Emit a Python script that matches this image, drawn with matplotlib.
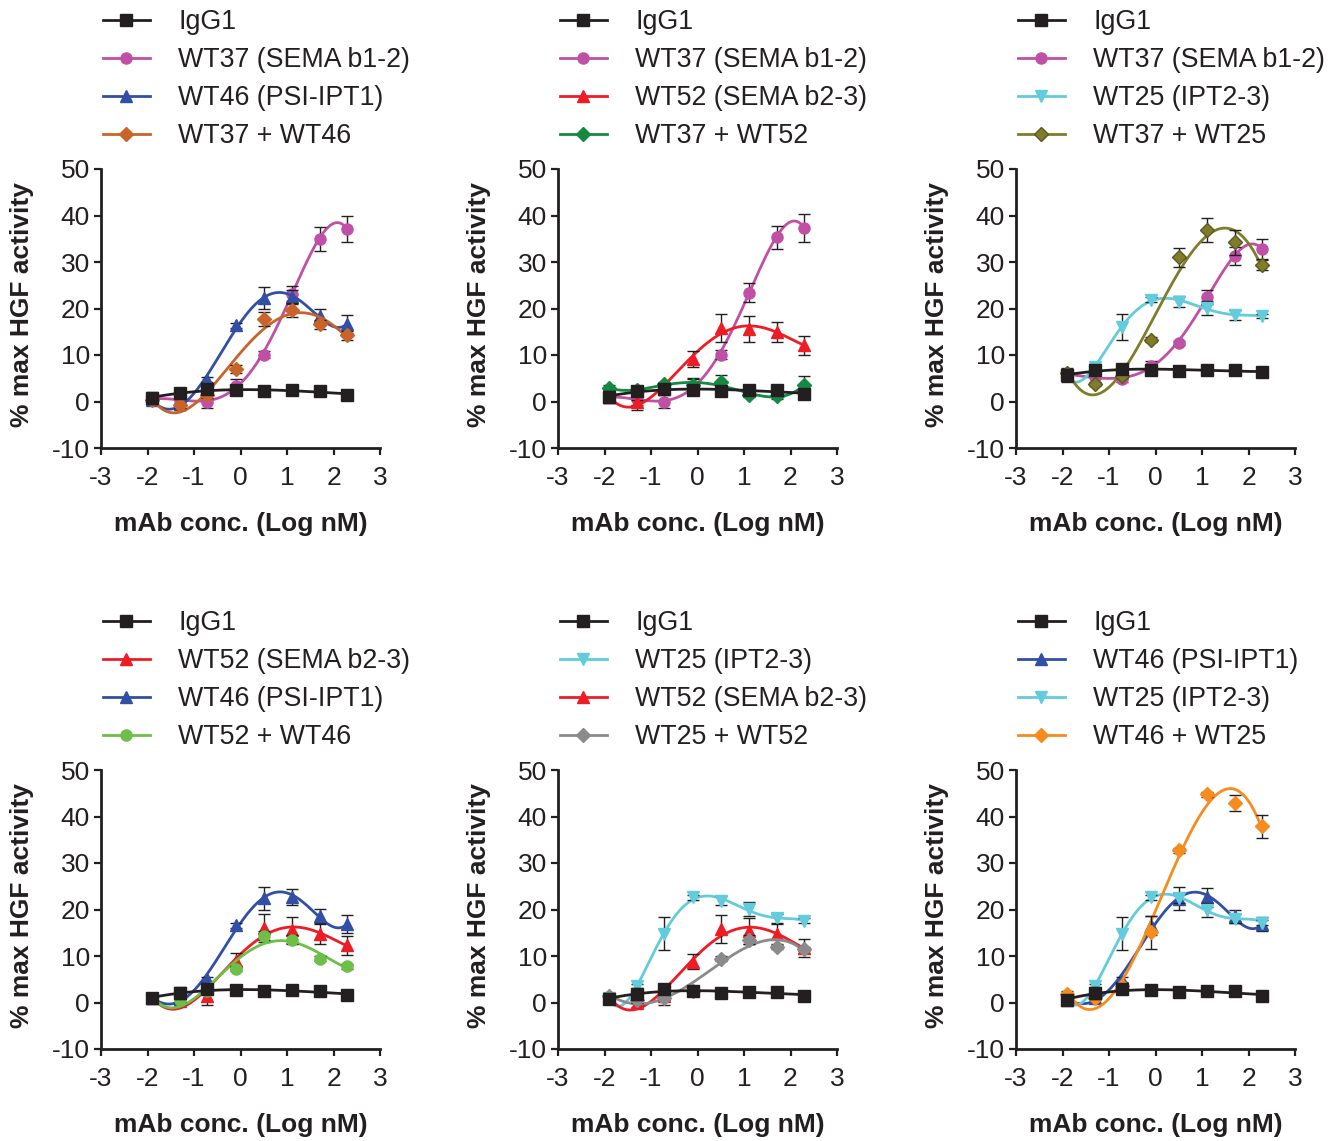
import numpy as np
import matplotlib
matplotlib.use("Agg")
import matplotlib.pyplot as plt
from matplotlib.lines import Line2D

plt.rcParams['font.family'] = ['Liberation Sans', 'DejaVu Sans']

# mAb concentration (nM): 200 nM serially diluted 1:4
conc_nM = [0.0122, 0.0488, 0.195, 0.781, 3.125, 12.5, 50.0, 200.0]

# ---------- Panel 1 ----------
p1_igg = [0.8, 1.8, 2.6, 2.4, 2.2, 2.4, 2.3, 1.5]
p1_igg_err = [1.3, 0.5, 0.5, 0.3, 0.3, 0.3, 0.3, 0.5]
p1_wt37 = [0.5, 0.4, 0.0, 3.3, 10.1, 23.2, 35.0, 37.0]
p1_wt37_err = [0.5, 2.2, 1.3, 1.5, 0.8, 1.6, 2.6, 2.8]
p1_wt46 = [0.3, -0.5, 4.7, 16.4, 22.2, 22.4, 18.4, 16.7]
p1_wt46_err = [0.5, 1.0, 0.5, 0.5, 2.4, 1.5, 1.5, 2.0]
p1_combo = [0.3, -0.8, 1.5, 7.0, 17.7, 19.6, 16.6, 14.2]
p1_combo_err = [0.5, 0.5, 0.8, 0.8, 1.5, 1.5, 1.0, 1.0]

# ---------- Panel 2 ----------
p2_igg = [1.0, 2.3, 2.7, 2.4, 2.3, 2.5, 2.4, 1.6]
p2_igg_err = [1.3, 1.0, 0.5, 0.3, 0.3, 0.3, 0.3, 0.3]
p2_wt37 = [1.0, 0.5, 0.0, 3.3, 10.1, 23.4, 35.3, 37.3]
p2_wt37_err = [0.5, 2.3, 1.3, 1.5, 1.0, 2.0, 2.5, 3.0]
p2_wt52 = [1.0, -0.2, 3.0, 9.1, 15.9, 15.6, 14.9, 12.1]
p2_wt52_err = [0.5, 0.5, 0.5, 1.7, 3.0, 2.8, 2.2, 2.0]
p2_combo = [3.0, 2.5, 3.8, 3.5, 4.1, 1.4, 1.1, 3.6]
p2_combo_err = [0.5, 0.8, 0.5, 1.5, 1.5, 0.5, 0.5, 1.8]

# ---------- Panel 3 ----------
p3_igg = [5.6, 6.7, 7.0, 6.8, 6.6, 6.8, 6.8, 6.3]
p3_igg_err = [1.3, 0.5, 0.5, 0.3, 0.3, 0.3, 0.3, 0.3]
p3_wt37 = [6.0, 5.2, 4.9, 7.7, 12.6, 22.4, 31.3, 32.7]
p3_wt37_err = [1.2, 1.3, 0.8, 1.0, 0.5, 1.5, 2.0, 2.2]
p3_wt25 = [5.5, 7.5, 16.1, 21.9, 21.5, 20.1, 18.6, 18.4]
p3_wt25_err = [0.5, 0.5, 2.8, 0.5, 1.2, 1.5, 1.0, 0.5]
p3_combo = [6.1, 3.8, 5.5, 13.3, 31.0, 36.9, 34.2, 29.4]
p3_combo_err = [0.5, 0.5, 0.5, 0.5, 2.0, 2.5, 2.6, 1.2]

# ---------- Panel 4 ----------
p4_igg = [1.0, 2.0, 2.9, 2.6, 2.4, 2.6, 2.5, 1.7]
p4_igg_err = [0.5, 1.3, 0.5, 0.3, 0.3, 0.3, 0.3, 0.3]
p4_wt52 = [1.0, 0.4, 1.3, 9.0, 16.0, 15.6, 14.7, 12.3]
p4_wt52_err = [0.5, 1.0, 1.8, 1.7, 3.0, 2.8, 2.2, 2.0]
p4_wt46 = [1.0, 0.8, 5.0, 16.6, 22.4, 22.7, 18.7, 16.9]
p4_wt46_err = [0.5, 1.0, 0.5, 0.5, 2.5, 1.8, 1.5, 2.0]
p4_combo = [1.0, 0.5, 2.5, 7.3, 14.4, 13.5, 9.4, 7.8]
p4_combo_err = [0.3, 0.3, 0.3, 0.5, 1.0, 1.0, 0.5, 0.5]

# ---------- Panel 5 ----------
p5_igg = [0.8, 1.8, 2.8, 2.4, 2.0, 2.3, 2.3, 1.5]
p5_igg_err = [0.5, 1.3, 0.5, 0.3, 0.3, 0.3, 0.3, 0.3]
p5_wt25 = [1.0, 3.5, 14.8, 22.6, 21.9, 20.1, 18.1, 17.6]
p5_wt25_err = [0.5, 0.5, 3.6, 0.5, 1.0, 1.5, 1.0, 0.5]
p5_wt52 = [1.0, 0.0, 1.3, 8.8, 15.9, 15.4, 14.7, 11.7]
p5_wt52_err = [0.5, 1.0, 1.8, 1.7, 3.0, 2.8, 2.2, 2.0]
p5_combo = [1.5, 0.5, 1.0, 2.5, 9.4, 13.5, 11.9, 11.5]
p5_combo_err = [0.5, 0.5, 0.5, 0.5, 0.5, 1.0, 0.5, 0.5]

# ---------- Panel 6 ----------
p6_igg = [0.6, 2.0, 2.8, 2.6, 2.3, 2.5, 2.4, 1.5]
p6_igg_err = [0.5, 1.3, 0.5, 0.3, 0.3, 0.3, 0.3, 0.3]
p6_wt46 = [0.5, 1.0, 4.9, 16.6, 22.3, 22.6, 18.5, 16.9]
p6_wt46_err = [0.5, 1.0, 0.5, 2.0, 2.5, 2.0, 1.5, 1.5]
p6_wt25 = [1.0, 3.5, 14.8, 22.6, 22.5, 19.9, 18.0, 17.2]
p6_wt25_err = [0.5, 0.5, 3.6, 0.5, 1.0, 1.5, 1.0, 0.5]
p6_combo = [1.9, 1.0, 3.5, 15.1, 32.7, 44.8, 42.9, 37.9]
p6_combo_err = [0.5, 0.5, 0.5, 3.5, 0.5, 0.5, 1.8, 2.5]

x_ticks = [-3, -2, -1, 0, 1, 2, 3]
y_ticks = [-10, 0, 10, 20, 30, 40, 50]
y_label = "% max HGF activity"
x_label = "mAb conc. (Log nM)"

TXT = '#231f20'
C_IGG = '#231f20'
C_WT37 = '#c050a6'
C_WT46 = '#3150a5'
C_WT52 = '#ee1c25'
C_WT25 = '#62cbdc'
C_37_46 = '#c8642a'
C_37_52 = '#138a3f'
C_37_25 = '#7f7d2c'
C_52_46 = '#6cbf47'
C_25_52 = '#8b8b8d'
C_46_25 = '#f68b1f'

# (label, values, errors, colour, marker, polynomial degree of the fitted curve)
panels = [
    [("IgG1", p1_igg, p1_igg_err, C_IGG, 's', 3),
     ("WT37 (SEMA b1-2)", p1_wt37, p1_wt37_err, C_WT37, 'o', 5),
     ("WT46 (PSI-IPT1)", p1_wt46, p1_wt46_err, C_WT46, '^', 5),
     ("WT37 + WT46", p1_combo, p1_combo_err, C_37_46, 'D', 4)],
    [("IgG1", p2_igg, p2_igg_err, C_IGG, 's', 3),
     ("WT37 (SEMA b1-2)", p2_wt37, p2_wt37_err, C_WT37, 'o', 5),
     ("WT52 (SEMA b2-3)", p2_wt52, p2_wt52_err, C_WT52, '^', 4),
     ("WT37 + WT52", p2_combo, p2_combo_err, C_37_52, 'D', 4)],
    [("IgG1", p3_igg, p3_igg_err, C_IGG, 's', 3),
     ("WT37 (SEMA b1-2)", p3_wt37, p3_wt37_err, C_WT37, 'o', 5),
     ("WT25 (IPT2-3)", p3_wt25, p3_wt25_err, C_WT25, 'v', 6),
     ("WT37 + WT25", p3_combo, p3_combo_err, C_37_25, 'D', 4)],
    [("IgG1", p4_igg, p4_igg_err, C_IGG, 's', 3),
     ("WT52 (SEMA b2-3)", p4_wt52, p4_wt52_err, C_WT52, '^', 4),
     ("WT46 (PSI-IPT1)", p4_wt46, p4_wt46_err, C_WT46, '^', 5),
     ("WT52 + WT46", p4_combo, p4_combo_err, C_52_46, 'o', 4)],
    [("IgG1", p5_igg, p5_igg_err, C_IGG, 's', 3),
     ("WT25 (IPT2-3)", p5_wt25, p5_wt25_err, C_WT25, 'v', 6),
     ("WT52 (SEMA b2-3)", p5_wt52, p5_wt52_err, C_WT52, '^', 4),
     ("WT25 + WT52", p5_combo, p5_combo_err, C_25_52, 'D', 4)],
    [("IgG1", p6_igg, p6_igg_err, C_IGG, 's', 3),
     ("WT46 (PSI-IPT1)", p6_wt46, p6_wt46_err, C_WT46, '^', 5),
     ("WT25 (IPT2-3)", p6_wt25, p6_wt25_err, C_WT25, 'v', 6),
     ("WT46 + WT25", p6_combo, p6_combo_err, C_46_25, 'D', 4)],
]

W, H = 1338, 1141
fig = plt.figure(figsize=(W / 100, H / 100), dpi=100)

lefts = [101, 558, 1016]
tops = [169, 770]
aw, ah = 279, 279
msize = {'s': 8.5, 'o': 8, '^': 9, 'v': 9, 'D': 7.5}

x = np.log10(np.array(conc_nM))
xs = np.linspace(x.min(), x.max(), 300)

for i, series in enumerate(panels):
    r, c = divmod(i, 3)
    L, T = lefts[c], tops[r]
    ax = fig.add_axes([L / W, 1 - (T + ah) / H, aw / W, ah / H])
    handles = []
    for k, (name, y, e, col, mk, deg) in enumerate(series):
        y = np.array(y)
        zo = 10 if k == 0 else 3 + k
        coef = np.polyfit(x, y, deg)
        ax.plot(xs, np.polyval(coef, xs), color=col, lw=2.0, zorder=zo,
                solid_capstyle='round')
        ax.errorbar(x, y, yerr=e, fmt='none', ecolor='#231f20', elinewidth=1.0,
                    capsize=4, capthick=1.0, zorder=zo + 0.1)
        mec = '#5a5a1e' if col == C_37_25 else col
        ax.plot(x, y, ls='none', marker=mk, ms=msize[mk], color=col, mec=mec,
                zorder=zo + 0.2)
        handles.append(Line2D([], [], color=col, lw=2.0, marker=mk,
                              ms=msize[mk], mec=mec))
    ax.set_xlim(-3, 3)
    ax.set_ylim(-10, 50)
    ax.set_xticks(x_ticks)
    ax.set_yticks(y_ticks)
    ax.set_xticklabels([str(t) for t in x_ticks])
    ax.set_yticklabels([str(t) for t in y_ticks])
    for s in ['top', 'right']:
        ax.spines[s].set_visible(False)
    for s in ['left', 'bottom']:
        ax.spines[s].set_linewidth(2.0)
        ax.spines[s].set_color(TXT)
    ax.tick_params(direction='out', length=5, width=1.6, colors=TXT,
                   labelsize=19)
    ax.tick_params(axis='y', pad=3)
    ax.tick_params(axis='x', pad=8)
    ax.patch.set_visible(False)
    fig.text((L - 79) / W, 1 - (T + ah / 2 - 4) / H, y_label, rotation=90,
             ha='center', va='center', fontsize=19, fontweight='bold', color=TXT)
    fig.text((L + aw / 2) / W, 1 - (T + 355) / H, x_label,
             ha='center', va='center', fontsize=19, fontweight='bold', color=TXT)
    leg_top = 9 if r == 0 else 610
    fig.legend(handles, [s[0] for s in series], loc='upper left',
               bbox_to_anchor=((L + 2) / W, 1 - leg_top / H),
               bbox_transform=fig.transFigure, frameon=False,
               fontsize=19.3, handlelength=1.75, handletextpad=1.05,
               labelspacing=0.45, borderpad=0, borderaxespad=0,
               labelcolor=TXT)

fig.savefig("out.png", dpi=100)
